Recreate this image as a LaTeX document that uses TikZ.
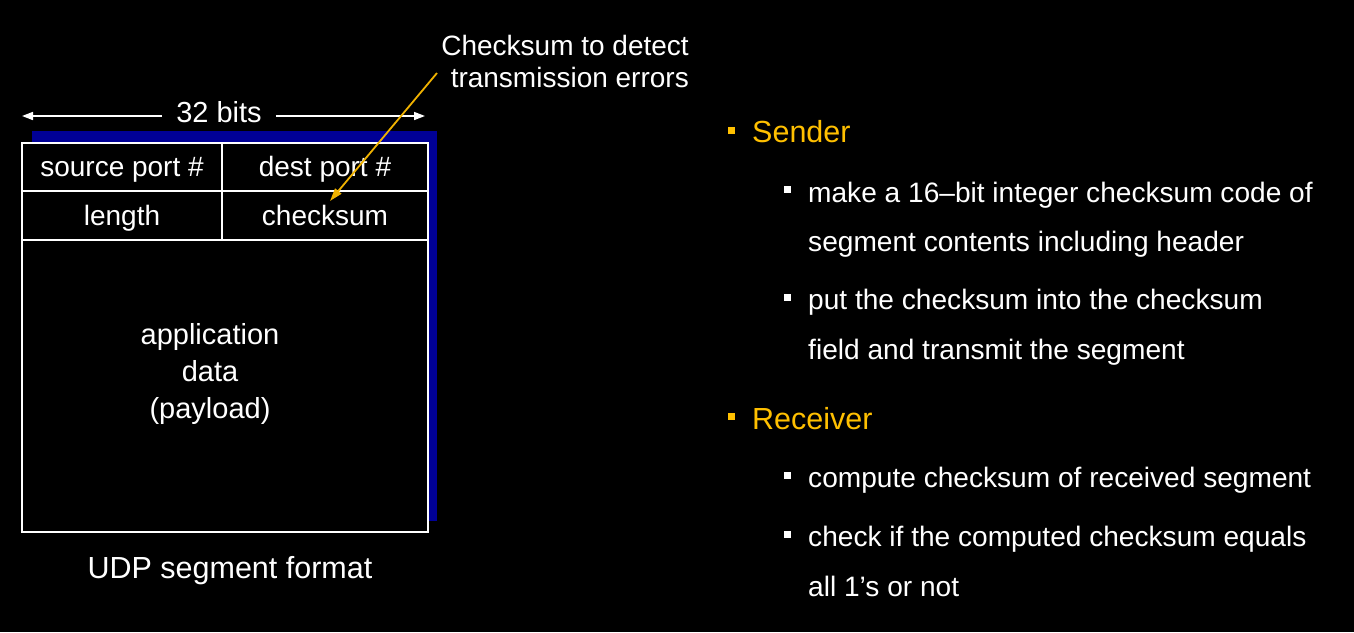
\documentclass[tikz,border=0pt]{standalone}
\usepackage{fontspec}
\setmainfont{Liberation Sans}
\usetikzlibrary{arrows.meta}
\definecolor{hdr}{RGB}{255,192,0}
\definecolor{shadowblue}{RGB}{0,0,150}
\definecolor{pointer}{RGB}{240,178,0}
\begin{document}
\begin{tikzpicture}[x=1pt,y=-1pt,
  every node/.style={text=white},
  cell/.style={draw=white,line width=2.2pt,fill=black,inner sep=0pt,
    text height=21pt,text depth=1.4pt,
    font=\fontsize{28}{32}\selectfont},
  lbl/.style={inner sep=0pt,font=\fontsize{29}{37}\selectfont},
  dimarrow/.style={draw=white,line width=1.6pt,-{Triangle[length=11pt,width=8pt]}},
  ptrarrow/.style={draw=pointer,line width=1.8pt,-{Triangle[length=13pt,width=8pt]}},
  hbullet/.style={fill=hdr,minimum width=7pt,minimum height=7pt,inner sep=0pt},
  wbullet/.style={fill=white,minimum width=7pt,minimum height=7pt,inner sep=0pt},
  hdrtext/.style={text=hdr,inner sep=0pt,anchor=base west,font=\fontsize{30.5}{36}\selectfont},
  itemtext/.style={inner sep=0pt,anchor=north west,align=left,font=\fontsize{28.1}{49.5}\selectfont}]

% page background
\fill[black] (0,0) rectangle (1354,632);
\useasboundingbox (0,0) rectangle (1354,632);

% segment layout with its drop shadow
\fill[shadowblue] (32,131) rectangle (437,521);
\node[cell,minimum width=406pt,minimum height=292pt] (payload) at (225,386) {};
\node[cell,minimum width=200pt,minimum height=48pt] (src) at (122,167) {source port \#};
\node[cell,minimum width=206pt,minimum height=48pt] (dst) at (325,167) {dest port \#};
\node[cell,minimum width=200pt,minimum height=49pt] (len) at (122,215.5) {length};
\node[cell,minimum width=206pt,minimum height=49pt] (chk) at (325,215.5) {checksum};
\node[lbl,align=center] (app) at (210,374) {application\\data\\(payload)};

% width marker
\node[lbl,inner xsep=14pt] (bits) at (219,112) {32 bits};
\coordinate (bitsL) at (22,116);
\coordinate (bitsR) at (425,116);
\draw[dimarrow] (bits.west |- bitsL) -- (bitsL);
\draw[dimarrow] (bits.east |- bitsR) -- (bitsR);

% caption
\node[lbl,anchor=base,font=\fontsize{30.5}{36}\selectfont] (cap) at (230,578) {UDP segment format};

% checksum annotation
\node[lbl,align=right,anchor=north east,font=\fontsize{28}{32}\selectfont] (note) at (689,35) {Checksum to detect\\transmission errors};
\coordinate (ptrA) at (437,73);
\coordinate (ptrB) at (330,201);
\draw[ptrarrow] (ptrA) -- (ptrB);

% sender steps
\node[hbullet] (bS) at (731,130) {};
\node[hdrtext] (sender) at (752,142.7) {Sender};
\node[wbullet] (bS1) at (787,189) {};
\node[itemtext] (s1) at (808,181.5) {make a 16–bit integer checksum code of\\segment contents including header};
\node[wbullet] (bS2) at (787,297) {};
\node[itemtext] (s2) at (808,289) {put the checksum into the checksum\\field and transmit the segment};

% receiver steps
\node[hbullet] (bR) at (731,416) {};
\node[hdrtext] (receiver) at (752,429) {Receiver};
\node[wbullet] (bR1) at (787,475) {};
\node[itemtext] (r1) at (808,467) {compute checksum of received segment};
\node[wbullet] (bR2) at (787,534) {};
\node[itemtext] (r2) at (808,526) {check if the computed checksum equals\\all 1’s or not};
\end{tikzpicture}
\end{document}
